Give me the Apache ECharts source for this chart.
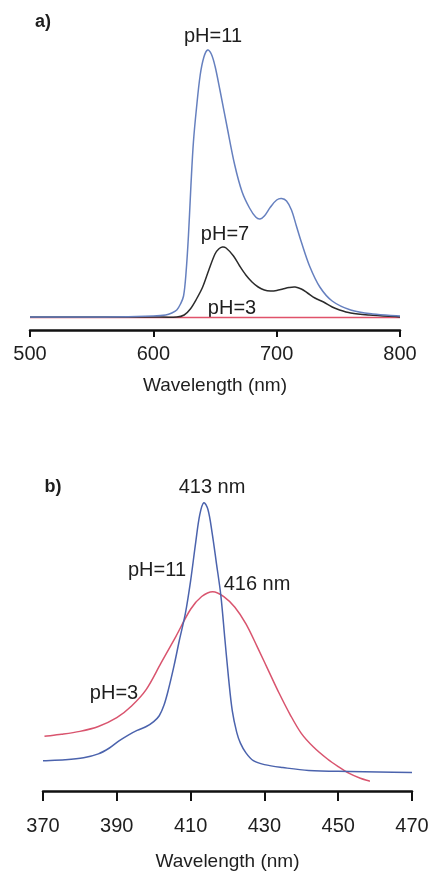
<!DOCTYPE html>
<html>
<head>
<meta charset="utf-8">
<script src="https://cdn.jsdelivr.net/npm/echarts@6/dist/echarts.min.js"></script>
<style>
html,body{margin:0;padding:0;background:#fff;}
#c{width:433px;height:872px;}
</style>
</head>
<body>
<div id="c"></div>
<script>
// ---------- Panel a) emission spectra (wavelength nm, intensity a.u.) ----------
const aTicks = [500, 600, 700, 800];
const aWave11 = [500, 560, 600, 610, 615, 619, 622, 624.5, 626.5, 628.5, 630.5, 632.5, 635, 638, 641, 644, 647, 650, 654, 659.5, 666, 672, 678, 683, 686.5, 690, 695, 700, 704, 708, 712, 716, 720, 727, 735, 745, 760, 778, 800];
const aInt11  = [13, 13, 14, 15, 17, 20, 26, 34, 57, 95, 145, 188, 222, 255, 273, 280, 276, 264, 240, 205, 165, 138, 122, 113, 111, 114, 123, 130, 131.5, 129, 120, 104, 88, 63, 43, 29, 20, 16, 14];
const aWave7 = [500, 600, 619, 625, 630, 635, 640, 645, 650, 653, 656, 659, 665, 670, 675, 680, 685, 690, 695, 700, 705, 710, 715, 720, 725, 731, 738, 745, 751, 760, 775, 800];
const aInt7  = [13, 13, 13, 15, 21, 31, 43, 60, 76, 81, 83, 82, 74, 64, 55, 48, 43, 40, 39, 39.5, 41, 42.5, 43, 41, 37, 32, 28, 23, 20, 17, 15, 13];
const aWave3 = [500, 600, 700, 800];
const aInt3  = [12.5, 12.5, 12.5, 12.5];

// ---------- Panel b) absorption spectra ----------
const bTicks = [370, 390, 410, 430, 450, 470];
const bWave11 = [370, 376, 381, 385, 388, 390.5, 393, 395.5, 398, 400, 401.5, 402.8, 404, 405.5, 407, 408.6, 410, 411.4, 412.5, 413.6, 414.7, 415.8, 417, 418.2, 419.3, 420.3, 421.3, 422.5, 423.5, 425, 427, 430, 435, 442, 453, 470];
const bInt11  = [31, 32, 34, 38, 44, 51, 57, 62, 66, 71, 77, 88, 104, 128, 155, 182, 215, 255, 283, 295, 288, 265, 233, 200, 155, 115, 82, 60, 49, 39, 31, 27, 24, 21, 20, 19];
const bWave3 = [370.4, 375, 380, 385, 390, 394, 398, 402, 406, 410, 413, 416, 419, 422, 425, 428, 431, 434, 437, 440, 443.3, 447, 450, 453, 456, 458.6];
const bInt3  = [56, 58, 61, 66, 75, 87, 104, 131, 158, 186, 199, 204, 199, 188, 171, 148, 124, 100, 78, 59, 45, 33, 25, 18, 13, 10];

const pair = (xs, ys) => xs.map((x, i) => [x, ys[i]]);
const FONT = '"Liberation Sans", Arial, sans-serif';
const TXT = '#1e1e1e';

function xAxisCfg(grid, ticks, tickLen, margin, nameGap) {
  return {
    type: 'value', gridIndex: grid,
    min: ticks[0], max: ticks[ticks.length - 1],
    interval: ticks[1] - ticks[0],
    name: 'Wavelength (nm)', nameLocation: 'middle', nameGap: nameGap,
    nameTextStyle: { fontSize: 19, color: TXT, fontFamily: FONT },
    axisLine: { show: true, lineStyle: { color: '#111', width: 2.5 } },
    axisTick: { show: true, length: tickLen, lineStyle: { color: '#111', width: 2 } },
    axisLabel: { fontSize: 20, color: TXT, fontFamily: FONT, margin: margin },
    splitLine: { show: false }
  };
}
function yAxisCfg(grid, max) {
  return { type: 'value', gridIndex: grid, min: 0, max: max, show: false, splitLine: { show: false } };
}

// Smooth spectrum drawn through the axes' coordinate mapping (chordal Catmull-Rom)
function spectrum(name, data, color, idx) {
  return {
    name: name, type: 'custom', xAxisIndex: idx, yAxisIndex: idx, data: data,
    animation: false, silent: true, clip: false,
    encode: { x: 0, y: 1 },
    renderItem: function (params, api) {
      if (params.dataIndex !== 0) return null;
      const P = data.map(d => api.coord(d));
      const n = P.length;
      const t = [0];
      for (let i = 1; i < n; i++) {
        t.push(t[i - 1] + Math.max(1e-6, Math.hypot(P[i][0] - P[i - 1][0], P[i][1] - P[i - 1][1])));
      }
      const m = P.map((p, i) => {
        const a = P[Math.max(0, i - 1)], b = P[Math.min(n - 1, i + 1)];
        const dt = t[Math.min(n - 1, i + 1)] - t[Math.max(0, i - 1)];
        return [(b[0] - a[0]) / dt, (b[1] - a[1]) / dt];
      });
      let d = 'M' + P[0][0].toFixed(2) + ' ' + P[0][1].toFixed(2);
      for (let i = 0; i < n - 1; i++) {
        const h = (t[i + 1] - t[i]) / 3;
        const c1 = [P[i][0] + m[i][0] * h, P[i][1] + m[i][1] * h];
        const c2 = [P[i + 1][0] - m[i + 1][0] * h, P[i + 1][1] - m[i + 1][1] * h];
        d += ' C' + c1[0].toFixed(2) + ' ' + c1[1].toFixed(2) + ' ' +
             c2[0].toFixed(2) + ' ' + c2[1].toFixed(2) + ' ' +
             P[i + 1][0].toFixed(2) + ' ' + P[i + 1][1].toFixed(2);
      }
      return {
        type: 'path',
        shape: { pathData: d },
        style: { fill: 'none', stroke: color, lineWidth: 1.5, lineJoin: 'round' }
      };
    }
  };
}
function txt(x, y, s, bold) {
  return {
    type: 'text', x: x, y: y, silent: true,
    style: { text: s, fontSize: bold ? 18 : 20, fontWeight: bold ? 'bold' : 'normal',
             fontFamily: FONT, fill: TXT, textAlign: 'center', textVerticalAlign: 'middle' }
  };
}

const chart = echarts.init(document.getElementById('c'), null, { renderer: 'canvas' });
chart.setOption({
  backgroundColor: '#fff',
  animation: false,
  grid: [
    { left: 30, right: 33, top: 40, bottom: 542 },
    { left: 43, right: 21, top: 490, bottom: 74 }
  ],
  xAxis: [xAxisCfg(0, aTicks, 7, 14, 46), xAxisCfg(1, bTicks, 10, 25, 61)],
  yAxis: [yAxisCfg(0, 290), yAxisCfg(1, 308)],
  series: [
    spectrum('pH=3 (a)', pair(aWave3, aInt3), '#e0526a', 0),
    spectrum('pH=7 (a)', pair(aWave7, aInt7), '#2b2b2b', 0),
    spectrum('pH=11 (a)', pair(aWave11, aInt11), '#6680bf', 0),
    spectrum('pH=3 (b)', pair(bWave3, bInt3), '#d9546e', 1),
    spectrum('pH=11 (b)', pair(bWave11, bInt11), '#4b63ad', 1)
  ],
  graphic: [
    txt(43, 22, 'a)', true),
    txt(213, 36, 'pH=11'),
    txt(225, 234, 'pH=7'),
    txt(232, 308, 'pH=3'),
    txt(53, 487, 'b)', true),
    txt(212, 487, '413 nm'),
    txt(157, 570, 'pH=11'),
    txt(257, 584, '416 nm'),
    txt(114, 693, 'pH=3')
  ]
});
</script>
</body>
</html>
